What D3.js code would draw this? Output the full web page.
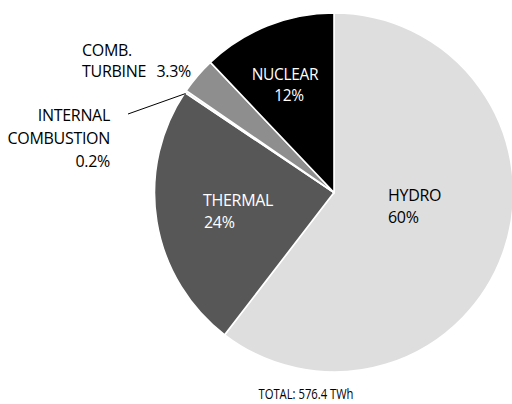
<!DOCTYPE html>
<html>
<head>
<meta charset="utf-8">
<script src="https://cdn.jsdelivr.net/npm/d3@7"></script>
<style>
  html, body { margin: 0; padding: 0; background: #fff; }
  svg { display: block; }
  text { font-family: "Open Sans", "Noto Sans", sans-serif; }
</style>
</head>
<body>
<svg id="chart" width="512" height="404"></svg>
<script>
// ---- data ----
const categories = ["HYDRO", "THERMAL", "INTERNAL COMBUSTION", "COMB. TURBINE", "NUCLEAR"];
const valuesTWh  = [348.3, 138.2, 1.2, 19.0, 69.7];
const pctLabels  = ["60%", "24%", "0.2%", "3.3%", "12%"];
const totalLabel = "TOTAL: 576.4 TWh";

// ---- styles ----
const fills = ["#dedede", "#575757", "#e4e4e4", "#8e8e8e", "#000000"];
const textColors = ["#000", "#fff", "#000", "#000", "#fff"];

const W = 512, H = 404;
const cx = 334, cy = 192.5, R = 179.5;

const svg = d3.select("#chart");
const g = svg.append("g").attr("transform", `translate(${cx},${cy})`);

const data = categories.map((c, i) => ({ cat: c, value: valuesTWh[i], pct: pctLabels[i], i }));

const pie = d3.pie().sort(null).value(d => d.value);
const arc = d3.arc().innerRadius(0).outerRadius(R);
const arcs = pie(data);

g.selectAll("path.slice")
  .data(arcs)
  .join("path")
  .attr("class", "slice")
  .attr("d", arc)
  .attr("fill", d => fills[d.data.i])
  .attr("stroke", "#fff")
  .attr("stroke-width", 1.6)
  .attr("stroke-linejoin", "miter");

const fs = 16;

function addText(x, y, str, anchor, color, size, ls) {
  return svg.append("text")
    .attr("x", x).attr("y", y)
    .attr("text-anchor", anchor)
    .attr("fill", color)
    .attr("font-size", size || fs)
    .attr("letter-spacing", ls === undefined ? -0.3 : ls)
    .text(str);
}

// HYDRO
addText(388, 201, "HYDRO", "start", textColors[0]);
addText(388, 223, arcs[0].data.pct, "start", textColors[0]);
// THERMAL
addText(203, 206, "THERMAL", "start", textColors[1]);
addText(204, 228, arcs[1].data.pct, "start", textColors[1]);
// NUCLEAR
addText(285, 80, "NUCLEAR", "middle", textColors[4], 15.5);
addText(289, 101, arcs[4].data.pct, "middle", textColors[4], 15.5);
// COMB. TURBINE
addText(82, 56, "COMB.", "start", "#000");
addText(82, 77, "TURBINE", "start", "#000");
addText(191, 77, arcs[3].data.pct, "end", "#000");
// INTERNAL COMBUSTION
addText(110, 121, "INTERNAL", "end", "#000");
addText(110, 144, "COMBUSTION", "end", "#000");
addText(110, 167, arcs[2].data.pct, "end", "#000");

// Leader line to internal combustion slice
const ic = arcs[2];
const mid = (ic.startAngle + ic.endAngle) / 2;
const ex = cx + R * Math.sin(mid), ey = cy - R * Math.cos(mid);
svg.append("line")
  .attr("x1", 128).attr("y1", 114)
  .attr("x2", ex).attr("y2", ey + 2)
  .attr("stroke", "#000").attr("stroke-width", 1);

// Total
addText(306, 399, totalLabel, "middle", "#000", 15, 0)
  .attr("textLength", 95)
  .attr("lengthAdjust", "spacingAndGlyphs");
</script>
</body>
</html>
